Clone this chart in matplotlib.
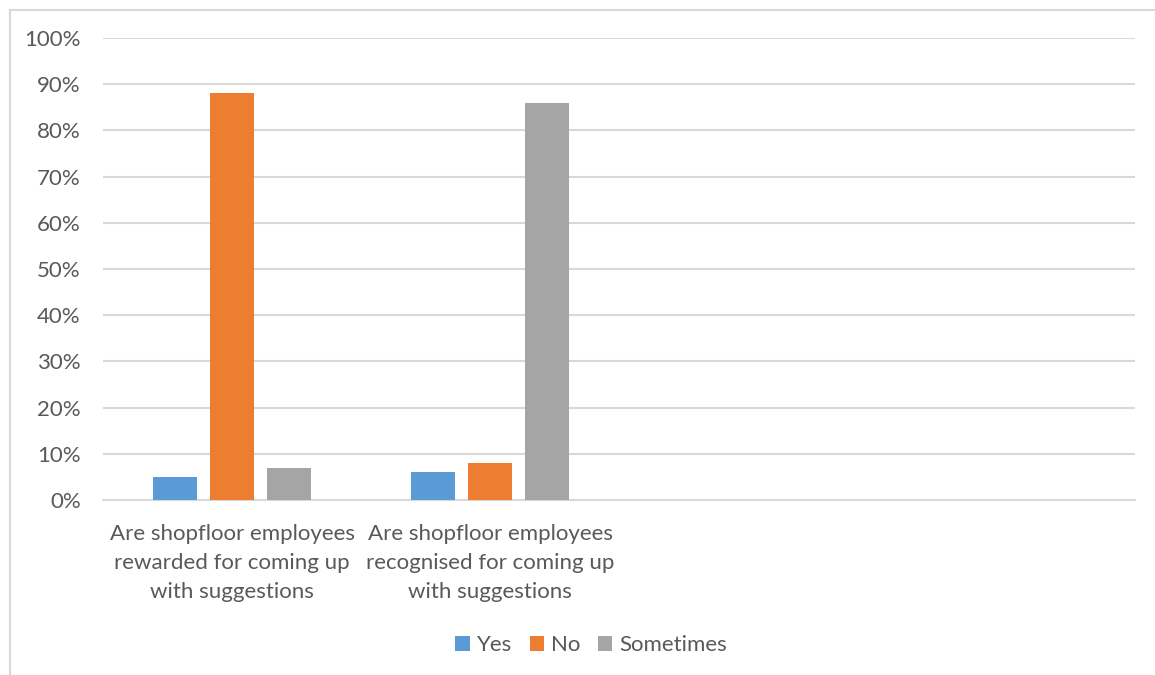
import numpy as np
import matplotlib.pyplot as plt
from matplotlib.lines import Line2D

plt.rcParams['font.family'] = ['Lato', 'DejaVu Sans']

categories = [
    'Are shopfloor employees\nrewarded for coming up\nwith suggestions',
    'Are shopfloor employees\nrecognised for coming up\nwith suggestions',
    '',
    '',
]
series = ['Yes', 'No', 'Sometimes']
yes = [5, 6, np.nan, np.nan]
no = [88, 8, np.nan, np.nan]
sometimes = [7, 86, np.nan, np.nan]
colors = ['#5b9bd5', '#ed7d31', '#a5a5a5']

text_col = '#595959'
grid_col = '#d9d9d9'

fig = plt.figure(figsize=(11.55, 6.75), dpi=100)
ax = fig.add_axes([103 / 1155, 1 - 500 / 675, 1032 / 1155, 462 / 675])

x = np.arange(len(categories))
width = 0.174
step = 0.221
for i, (name, vals) in enumerate(zip(series, [yes, no, sometimes])):
    ax.bar(x + (i - 1) * step, vals, width, color=colors[i], label=name, zorder=3)

ax.set_xlim(-0.5, len(categories) - 0.5)
ax.set_ylim(0, 100)
ax.set_yticks(np.arange(0, 101, 10))
ax.set_yticklabels([f'{v}%' for v in range(0, 101, 10)])
ax.set_xticks(x)
ax.set_xticklabels(categories, linespacing=1.58)
ax.tick_params(axis='both', length=0, colors=text_col, labelsize=16)
ax.tick_params(axis='y', pad=16)
ax.tick_params(axis='x', pad=17)
ax.grid(axis='y', color=grid_col, linewidth=1.5, zorder=0)
for s in ['top', 'right', 'left']:
    ax.spines[s].set_visible(False)
ax.spines['bottom'].set_color(grid_col)
ax.spines['bottom'].set_linewidth(1.5)

ax.legend(loc='center', bbox_to_anchor=(591 / 1155, 1 - 645 / 675),
          bbox_transform=fig.transFigure, ncol=3, frameon=False,
          fontsize=16, labelcolor=text_col, handlelength=0.65, handleheight=0.65,
          handletextpad=0.3, columnspacing=0.8)

# outer chart frame (left and top edges only)
fig.add_artist(Line2D([10 / 1155, 10 / 1155], [0, 1 - 10 / 675], color=grid_col,
                      linewidth=1.5, transform=fig.transFigure))
fig.add_artist(Line2D([10 / 1155, 1], [1 - 10 / 675, 1 - 10 / 675], color=grid_col,
                      linewidth=1.5, transform=fig.transFigure))

fig.savefig('out.png', dpi=100)
